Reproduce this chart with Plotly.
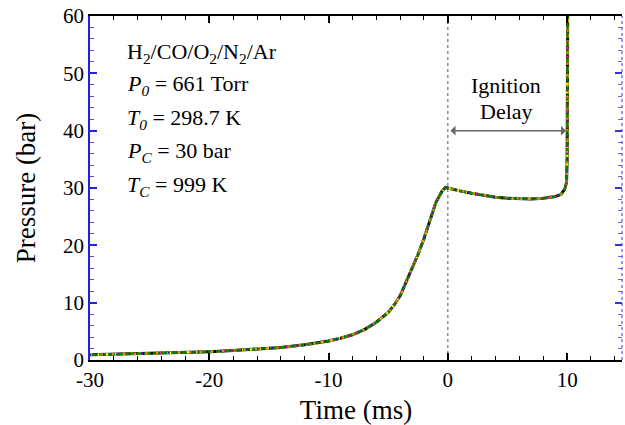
import plotly.graph_objects as go

time_ms = [-30, -28, -26, -24, -22, -20, -18, -16, -14, -12, -10, -9, -8, -7, -6, -5,
           -4.5, -4, -3.5, -3, -2.5, -2, -1.5, -1, -0.5, -0.2, 0, 0.5, 1, 2, 3, 4, 5,
           6, 7, 8, 9, 9.5, 9.8, 9.95, 10.0, 10.05]
pressure_bar = [0.9, 1.0, 1.05, 1.15, 1.3, 1.45, 1.65, 1.9, 2.2, 2.65, 3.3, 3.8, 4.4,
                5.3, 6.6, 8.3, 9.6, 11.2, 13.5, 16.0, 18.4, 21.2, 24.3, 27.5, 29.4,
                30.1, 30.0, 29.7, 29.5, 29.1, 28.7, 28.4, 28.2, 28.1, 28.1, 28.2,
                28.5, 28.9, 29.8, 31.0, 35.0, 62.0]

run_colors = ["#000000", "#ff1493", "#ffff00", "#008000", "#ff8c00", "#0000ff"]
run_dashes = ["solid", "4px,3px", "3px,5px", "7px,2px", "2px,9px", "1px,12px"]
run_widths = [3, 2.5, 2.5, 2.2, 2, 1.5]

info_lines = ["H<sub>2</sub>/CO/O<sub>2</sub>/N<sub>2</sub>/Ar",
              "<i>P<sub>0</sub></i> = 661 Torr",
              "<i>T<sub>0</sub></i> = 298.7 K",
              "<i>P<sub>C</sub></i> = 30 bar",
              "<i>T<sub>C</sub></i> = 999 K"]
info_y = [53.5, 47.9, 42.1, 36.3, 30.3]

FONT = "Liberation Serif, Times New Roman, serif"

fig = go.Figure()
for c, d, w in zip(run_colors, run_dashes, run_widths):
    fig.add_trace(go.Scatter(x=time_ms, y=pressure_bar, mode="lines",
                             line=dict(color=c, width=w, dash=d), showlegend=False,
                             hoverinfo="skip"))

# dotted vertical line at t=0
fig.add_shape(type="line", x0=0, x1=0, y0=0, y1=60, xref="x", yref="y",
              line=dict(color="#555555", width=1, dash="dot"), layer="below")
# right dotted axis
fig.add_shape(type="line", x0=1, x1=1, y0=0, y1=1, xref="paper", yref="paper",
              line=dict(color="#3333dd", width=1, dash="dot"))

# ignition delay arrow
fig.add_annotation(x=9.9, y=40, ax=0.1, ay=40, xref="x", yref="y", axref="x", ayref="y",
                   showarrow=True, arrowhead=1, startarrowhead=1, arrowside="end+start",
                   arrowsize=1.1, arrowwidth=1.5, arrowcolor="#666666", text="")
fig.add_annotation(x=4.9, y=47.8, xref="x", yref="y", showarrow=False,
                   text="Ignition", font=dict(family=FONT, size=22, color="black"))
fig.add_annotation(x=4.9, y=43.4, xref="x", yref="y", showarrow=False,
                   text="Delay", font=dict(family=FONT, size=22, color="black"))

for t, yv in zip(info_lines, info_y):
    fig.add_annotation(x=-27.1, y=yv, xref="x", yref="y", showarrow=False,
                       xanchor="left", yanchor="middle", text=t,
                       font=dict(family=FONT, size=22, color="black"))

fig.update_layout(
    width=625, height=425,
    margin=dict(l=90, r=3, t=16, b=65),
    paper_bgcolor="white", plot_bgcolor="white",
    font=dict(family=FONT, size=18, color="black"),
    xaxis=dict(range=[-30, 14.6], tickvals=[-30, -20, -10, 0, 10],
               ticktext=["-30", "-20", "-10", "0", "10"], automargin=False,
               showgrid=False, zeroline=False, showline=True, linecolor="black",
               linewidth=1.5, mirror="ticks", ticks="inside", ticklen=7,
               tickcolor="black", tickwidth=1.5,
               minor=dict(dtick=2, ticks="inside", ticklen=4, tickcolor="black", tickwidth=1),
               title=dict(text="Time (ms)", font=dict(size=27), standoff=11),
               tickfont=dict(size=21)),
    yaxis=dict(range=[0, 60], tickvals=[0, 10, 20, 30, 40, 50, 60], automargin=False,
               showgrid=False, zeroline=False, showline=True, linecolor="#2222dd",
               linewidth=1.5, ticks="inside", ticklen=7, tickcolor="#2222dd", tickwidth=1.5,
               minor=dict(dtick=2, ticks="inside", ticklen=4, tickcolor="#5555ee", tickwidth=1),
               title=dict(text="Pressure (bar)", font=dict(size=27), standoff=20),
               tickfont=dict(size=21)),
    yaxis2=dict(range=[0, 60], overlaying="y", side="right", showgrid=False,
                zeroline=False, showline=False, showticklabels=False, automargin=False,
                tickvals=[0, 10, 20, 30, 40, 50, 60],
                ticks="inside", ticklen=7, tickcolor="#3333dd", tickwidth=1.5,
                minor=dict(dtick=2, ticks="inside", ticklen=4, tickcolor="#6666ee", tickwidth=1)),
)
fig.add_trace(go.Scatter(x=[None], y=[None], yaxis="y2", showlegend=False, hoverinfo="skip"))

fig.write_html("out.html", config={"displayModeBar": False},
               post_script="document.body.style.margin='0';document.body.style.overflow='hidden';")
